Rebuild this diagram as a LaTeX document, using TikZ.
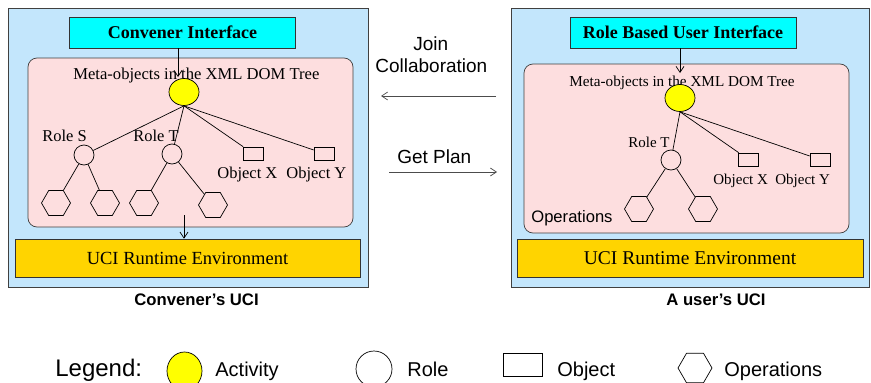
\documentclass[tikz,border=0pt]{standalone}
\usepackage{fontspec}
\setmainfont{Liberation Serif}
\setsansfont{Liberation Sans}
\usetikzlibrary{shapes.geometric,arrows.meta}

\definecolor{uciblue}{HTML}{C3E6FC}
\definecolor{treepink}{HTML}{FDDEDF}
\definecolor{runtimegold}{HTML}{FFD400}
\definecolor{ifacecyan}{RGB}{0,255,255}
\definecolor{actyellow}{RGB}{255,255,0}

\tikzset{
  panel/.style={draw=black!75, fill=uciblue},
  iface/.style={draw=black!80, fill=ifacecyan, minimum width=226pt, minimum height=31pt, inner sep=0pt, font=\bfseries\fontsize{18}{18}\selectfont},
  treebox/.style={draw=black!75, fill=treepink, rounded corners=9pt},
  runtime/.style={draw=black!80, fill=runtimegold, minimum width=345pt, minimum height=38pt, inner sep=0pt},
  activity/.style={ellipse, draw, fill=actyellow, minimum width=30pt, minimum height=27pt, inner sep=0pt},
  role/.style={circle, draw, minimum size=20pt, inner sep=0pt},
  object/.style={rectangle, draw, minimum width=20pt, minimum height=13pt, inner sep=0pt},
  operation/.style={regular polygon, regular polygon sides=6, draw, minimum size=29pt, inner sep=0pt},
  lbl/.style={anchor=base west, inner sep=0pt, font=\fontsize{#1}{#1}\selectfont},
  slbl/.style={anchor=base west, inner sep=0pt, font=\sffamily\fontsize{#1}{#1}\selectfont},
}

\begin{document}
\begin{tikzpicture}[x=1pt, y=-1pt, line width=0.7pt, >={Straight Barb[length=6pt,width=8pt]}]
    \useasboundingbox (0,0) rectangle (871,383);

    %convener's UCI
    \draw[panel] (8,8) rectangle (368,287);
    \node[iface] (ci1) at (182.5,32.5) {Convener Interface};
    \draw[treebox] (28,58) rectangle (353,227);
    \node[runtime] (env1) at (187.5,258) {\fontsize{18.5}{18.5}\selectfont UCI Runtime Environment};
    \node[lbl=16.6] (meta1) at (73,79) {Meta-objects in the XML DOM Tree};
    \node[activity] (act1) at (184,92) {};
    \node[role] (roleS) at (84,155) {};
    \node[role] (roleT1) at (172,154) {};
    \node[object] (objX1) at (253,153.5) {};
    \node[object] (objY1) at (324,153.5) {};
    \node[operation] (opS1) at (56,203) {};
    \node[operation] (opS2) at (105,203) {};
    \node[operation] (opT1) at (144,203) {};
    \node[operation] (opT2) at (213,205) {};
    \node[lbl=16.5] (roleSl) at (42,141) {Role S};
    \node[lbl=16.5] (roleT1l) at (133,141) {Role T};
    \node[lbl=16.5] (objX1l) at (217,178) {Object X};
    \node[lbl=16.5] (objY1l) at (286,178) {Object Y};
    \draw (act1.south) -- (roleS);
    \draw (act1.south) -- (roleT1);
    \draw (act1.south) -- (objX1);
    \draw (act1.south) -- (objY1);
    \draw (roleS) -- (opS1);
    \draw (roleS) -- (opS2);
    \draw (roleT1) -- (opT1);
    \draw (roleT1) -- (opT2);
    \coordinate (m1) at (178,77);
    \draw[->] (ci1.south -| m1) -- (m1);
    \coordinate (e1) at (184,215);
    \draw[->] (e1) -- (e1 |- env1.north);
    \node[slbl=16.7, font=\sffamily\bfseries\fontsize{16.7}{16.7}\selectfont] (uci1) at (134,305) {Convener's UCI};

    %a user's UCI
    \draw[panel] (511,8) rectangle (869.5,287);
    \node[iface] (ci2) at (683,32.5) {Role Based User Interface};
    \draw[treebox] (524,64) rectangle (849,233);
    \node[runtime, minimum width=346pt] (env2) at (690,258) {\fontsize{19.5}{19.5}\selectfont UCI Runtime Environment};
    \node[lbl=15.2] (meta2) at (569,86) {Meta-objects in the XML DOM Tree};
    \node[activity] (act2) at (680,98) {};
    \node[role] (roleT2) at (671,160) {};
    \node[object] (objX2) at (748.5,159.5) {};
    \node[object] (objY2) at (820,159.5) {};
    \node[operation] (opT3) at (639,209) {};
    \node[operation] (opT4) at (703,209) {};
    \node[lbl=15] (roleT2l) at (628,147) {Role T};
    \node[lbl=15] (objX2l) at (713,184) {Object X};
    \node[lbl=15] (objY2l) at (775,184) {Object Y};
    \node[slbl=16.6] (ops) at (531,222) {Operations};
    \draw (act2.south) -- (roleT2);
    \draw (act2.south) -- (objX2);
    \draw (act2.south) -- (objY2);
    \draw (roleT2) -- (opT3);
    \draw (roleT2) -- (opT4);
    \coordinate (m2) at (680,73);
    \draw[->] (ci2.south -| m2) -- (m2);
    \node[slbl=16.7, font=\sffamily\bfseries\fontsize{16.7}{16.7}\selectfont] (uci2) at (666,305) {A user's UCI};

    %messages between the two
    \node[slbl=19] (join) at (413,50) {Join};
    \node[slbl=19] (collab) at (375,72) {Collaboration};
    \coordinate (j1) at (496,96);
    \coordinate (j2) at (381,96);
    \draw[->, black!70] (j1) -- (j2);
    \node[slbl=19] (plan) at (397,163) {Get Plan};
    \coordinate (p1) at (389,172);
    \coordinate (p2) at (497,172);
    \draw[->, black!70] (p1) -- (p2);

    %legend
    \node[slbl=24] (legend) at (55,376) {Legend:};
    \node[activity, minimum width=35pt, minimum height=38pt] (lgAct) at (184.5,371) {};
    \node[slbl=20] at (215,376) {Activity};
    \node[role, minimum size=36pt] (lgRole) at (374,369) {};
    \node[slbl=20] at (407,376) {Role};
    \node[object, minimum width=39pt, minimum height=23pt] (lgObj) at (522.5,364.5) {};
    \node[slbl=20] at (557,376) {Object};
    \node[operation, minimum size=34pt] (lgOp) at (695,368) {};
    \node[slbl=20] at (724,376) {Operations};
\end{tikzpicture}
\end{document}
